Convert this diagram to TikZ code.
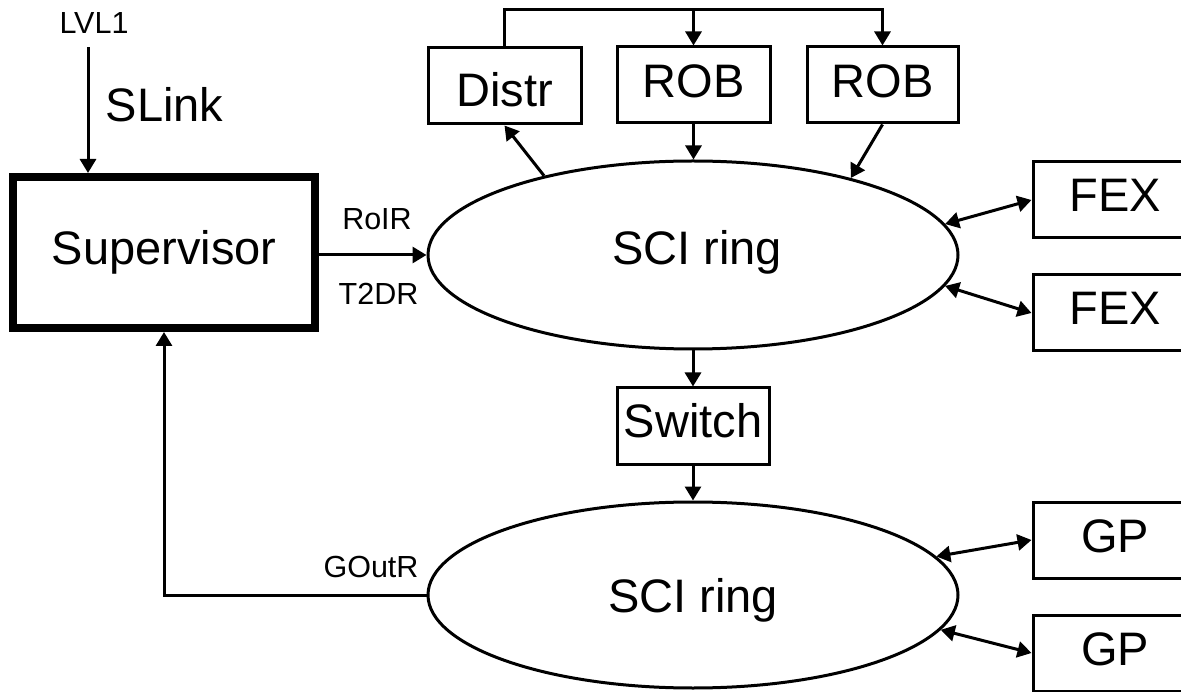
\documentclass[tikz,border=0pt]{standalone}
\usepackage{fontspec}
\setmainfont{Liberation Sans}
\usetikzlibrary{arrows.meta,shapes.geometric,calc}
\newcommand\liftt[2]{\raisebox{#1}[\height][\depth]{#2}}
\begin{document}
\begin{tikzpicture}[x=1pt,y=-1pt,
  big/.style={font=\fontsize{47}{56}\selectfont},
  small/.style={font=\fontsize{30.5}{36}\selectfont},
  box/.style={draw,line width=3pt,rectangle,inner sep=0pt,minimum width=153pt,minimum height=76pt,big},
  ring/.style={draw,line width=3pt,ellipse,inner sep=0pt,minimum width=530pt,minimum height=188pt,big},
  arr/.style={line width=3pt,line join=miter,-{Triangle[length=14pt,width=16pt]}},
  biarr/.style={line width=3pt,{Triangle[length=14pt,width=16pt]}-{Triangle[length=14pt,width=16pt]}},
  lbl/.style={small,inner sep=0pt,anchor=base}]
\useasboundingbox (0,0) rectangle (1181,692);
\fill[white] (0,0) rectangle (1181,692);
% nodes
\node[draw,line width=8pt,inner sep=0pt,minimum width=302pt,minimum height=151pt,big] (sup) at (164,252.5) {Supervisor};
\node[lbl] (lvl1) at (94,34) {LVL1};
\node[big,inner sep=0pt,anchor=base] (slink) at (164.5,122) {SLink};
\node[box] (distr) at (504.5,86) {\liftt{-4pt}{Distr}};
\node[box] (rob1) at (693.5,85) {\liftt{4pt}{ROB}};
\node[box,minimum width=151pt] (rob2) at (882.5,85) {\liftt{4pt}{ROB}};
\node[ring] (ring1) at (693,255) {\hspace*{8pt}\liftt{2.5pt}{SCI ring}};
\node[box,minimum width=164pt] (fex1) at (1115,200) {\liftt{5pt}{FEX}};
\node[box,minimum width=164pt] (fex2) at (1115,313) {\liftt{4.5pt}{FEX}};
\node[box,minimum width=152pt] (switch) at (693,426) {\liftt{5pt}{Switch}};
\node[ring,minimum height=186pt] (ring2) at (693,595) {\liftt{-5.5pt}{SCI ring}};
\node[box,minimum width=164pt] (gp1) at (1115,540) {\liftt{4pt}{GP}};
\node[box,minimum width=164pt] (gp2) at (1115,653) {\liftt{4pt}{GP}};
\node[lbl] (roir) at (377,230) {RoIR};
\node[lbl] (t2dr) at (378.5,305) {T2DR};
\node[lbl] (goutr) at (371,577) {GOutR};
% connectors
\coordinate (lvlx) at (88,0);
\coordinate (bus) at (0,10);
\draw[arr,shorten <=13pt] (lvl1.south -| lvlx) -- (lvlx |- sup.north);
\draw[arr] (sup.east |- ring1.west) -- (ring1.west);
\draw[arr] (distr.north) |- (rob2.north |- bus) -- (rob2.north);
\draw[arr] (rob1.north |- bus) -- (rob1.north);
\draw[arr] (rob1.south) -- (rob1.south |- ring1.north);
\draw[arr] (rob2.south) -- (ring1.26.9);
\draw[arr] (ring1.152.5) -- (distr.south);
\draw[biarr] (ring1.7.9) -- (fex1.west);
\draw[biarr] (ring1.-7.9) -- (fex2.west);
\draw[arr] (ring1.south) -- (switch.north);
\draw[arr] (switch.south) -- (ring2.north);
\draw[biarr] (ring2.9.3) -- (gp1.west);
\draw[biarr] (ring2.-8.5) -- (gp2.west);
\draw[arr] (ring2.west) -| (sup.south);
\end{tikzpicture}
\end{document}
